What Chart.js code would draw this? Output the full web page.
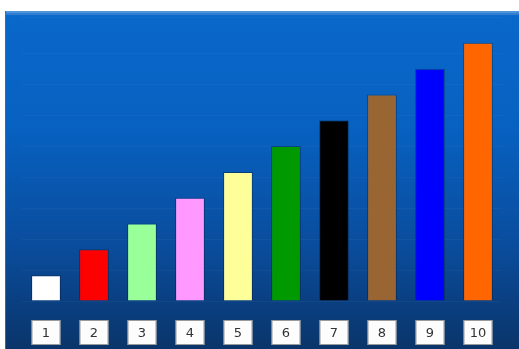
<!DOCTYPE html>
<html>
<head>
<meta charset="utf-8">
<script src="https://cdn.jsdelivr.net/npm/chart.js@4.4.1/dist/chart.umd.min.js"></script>
<style>
    html, body { margin: 0; padding: 0; background: #ffffff; }
    #wrap { position: relative; width: 519px; height: 349px; }
</style>
</head>
<body>
<div id="wrap"><canvas id="chart"></canvas></div>
<script>
// Datos del grafico
const LABELS = ['1', '2', '3', '4', '5', '6', '7', '8', '9', '10'];
const VALUES = [1, 2, 3, 4, 5, 6, 7, 8, 9, 10];
const COLORS = ['#ffffff', '#ff0000', '#99ff99', '#ff99ff', '#ffff99',
    '#009900', '#000000', '#996633', '#0000ff', '#ff6600'];

// Fondo azul degradado
const backdrop = {
    id: 'backdrop',
    beforeDraw(chart) {
        const ctx = chart.ctx;
        const w = chart.width, h = chart.height;
        ctx.save();
        const grad = ctx.createLinearGradient(0, 11, 0, h);
        grad.addColorStop(0, '#0a68cb');
        grad.addColorStop(0.35, '#0761c0');
        grad.addColorStop(0.7, '#0a4c9c');
        grad.addColorStop(1, '#0a356a');
        ctx.fillStyle = grad;
        ctx.fillRect(5, 11, w - 5, h - 11);
        // borde superior claro
        ctx.fillStyle = '#4f93da';
        ctx.fillRect(5, 11, w - 5, 2);
        ctx.fillStyle = 'rgba(120,170,230,0.35)';
        ctx.fillRect(5, 13, w - 5, 2);
        // borde izquierdo
        ctx.fillStyle = 'rgba(40,110,200,0.9)';
        ctx.fillRect(5, 11, 1, h - 11);
        ctx.restore();
    },
    // Cajas blancas con las etiquetas de categoria
    afterDraw(chart) {
        const ctx = chart.ctx;
        const x = chart.scales.x;
        const bw = 29, top = 320, bh = 25;
        ctx.save();
        ctx.font = '13px "DejaVu Sans"';
        ctx.textAlign = 'center';
        ctx.textBaseline = 'middle';
        LABELS.forEach((label, i) => {
            const cx = Math.round(x.getPixelForValue(i));
            ctx.fillStyle = '#fdfdfd';
            ctx.fillRect(cx - bw / 2, top, bw, bh);
            ctx.strokeStyle = 'rgba(90,90,90,0.6)';
            ctx.lineWidth = 1;
            ctx.strokeRect(cx - bw / 2 + 0.5, top + 0.5, bw - 1, bh - 1);
            ctx.fillStyle = '#333333';
            ctx.fillText(label, cx, top + bh / 2 + 1);
        });
        ctx.restore();
    }
};

const CONTEXT = document.getElementById('chart').getContext('2d');
const CHART = new Chart(CONTEXT, {
    type: 'bar',
    data: {
        labels: LABELS,
        datasets: [{
            data: VALUES,
            backgroundColor: COLORS,
            borderColor: 'rgba(0,0,0,0.3)',
            borderWidth: 1,
            barPercentage: 0.62,
            categoryPercentage: 1
        }]
    },
    options: {
        responsive: true,
        maintainAspectRatio: false,
        animation: false,
        layout: { padding: { left: 22, right: 17, top: 17, bottom: 48 } },
        plugins: {
            legend: { display: false },
            tooltip: { enabled: false }
        },
        scales: {
            x: {
                grid: { display: false, drawTicks: false },
                border: { display: false },
                ticks: { display: false }
            },
            y: {
                display: true,
                min: 0,
                max: 11,
                grid: { color: 'rgba(255,255,255,0.035)', drawTicks: false },
                border: { display: false },
                ticks: { display: false, stepSize: 1.2 }
            }
        }
    },
    plugins: [backdrop]
});
</script>
</body>
</html>
